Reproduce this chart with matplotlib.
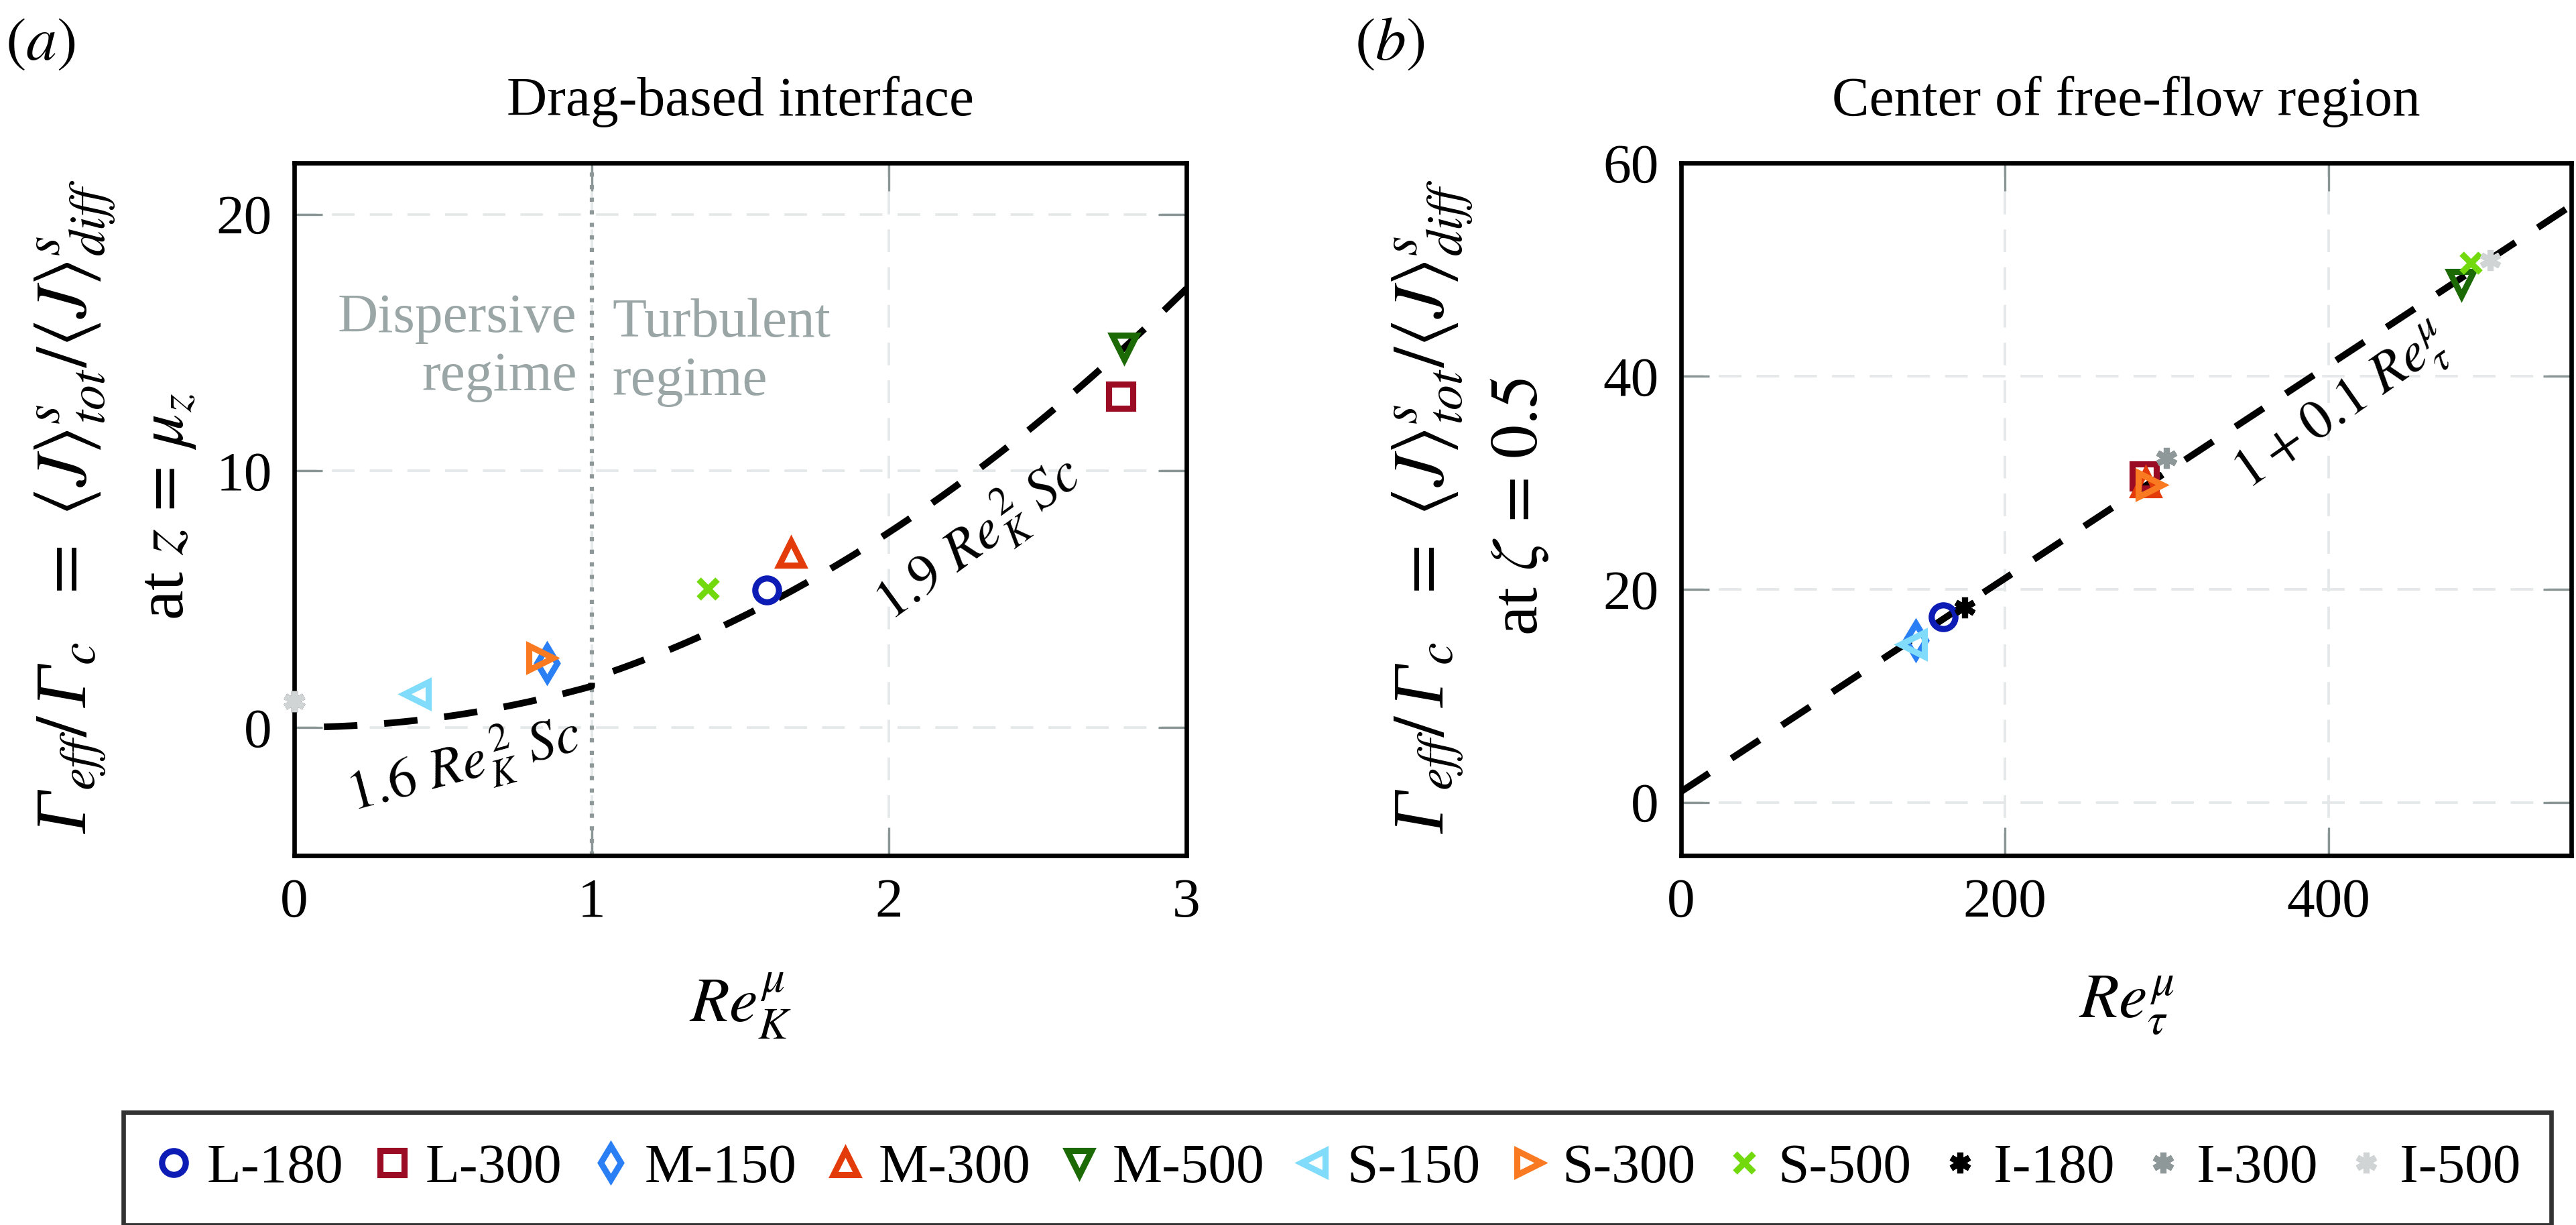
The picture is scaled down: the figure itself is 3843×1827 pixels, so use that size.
import numpy as np
import matplotlib
matplotlib.use("Agg")
import matplotlib.pyplot as plt
from matplotlib.lines import Line2D

plt.rcParams.update({
    "font.family": "serif",
    "font.serif": ["Liberation Serif", "DejaVu Serif"],
    "mathtext.fontset": "stix",
    "font.size": 20,
    "xtick.labelsize": 20,
    "ytick.labelsize": 20,
})

# ---- data ----
cases = ["L-180", "L-300", "M-150", "M-300", "M-500",
         "S-150", "S-300", "S-500", "I-180", "I-300", "I-500"]
colors = ["#0d1cb4", "#9b0b23", "#2b7ff5", "#e33b09", "#1c6a05",
          "#80dcfa", "#f97a21", "#72d90c", "#000000", "#8e9899", "#d0d4d4"]
ast = (6, 2, 0)
markers = ["o", "s", "d", "^", "v", "<", ">", "x", ast, ast, ast]

# (a) drag-based interface
re_k = [1.59, 2.78, 0.85, 1.67, 2.79, 0.41, 0.83, 1.39, 0.0, 0.0, 0.0]
gamma_drag = [5.35, 12.9, 2.5, 6.8, 14.8, 1.3, 2.7, 5.4, 1.0, 1.0, 1.0]

# (b) centre of free-flow region
re_tau = [162, 286, 145, 287, 482, 143, 290, 488, 175, 300, 500]
gamma_center = [17.4, 30.6, 15.2, 30.0, 48.7, 14.8, 29.8, 50.6, 18.3, 32.3, 50.9]

# fitted scalings shown as dashed lines
c_disp, c_turb = 1.6, 1.9      # Gamma = c Re_K^2 Sc  (Sc = 1)
c_off, c_slope = 1.0, 0.1      # Gamma = 1 + 0.1 Re_tau

grid_col = "#e4e8e8"
tick_col = "#8a9596"
note_col = "#9aa5a5"

fig = plt.figure(figsize=(12.81, 6.09), dpi=300)
ax1 = fig.add_axes([0.1142, 0.3016, 0.3464, 0.5654])
ax2 = fig.add_axes([0.6526, 0.3016, 0.3456, 0.5654])


def style(ax):
    for s in ax.spines.values():
        s.set_linewidth(1.6)
    ax.tick_params(direction="in", length=10, width=0.8, color=tick_col,
                   top=True, right=True, pad=8)
    ax.grid(True, color=grid_col, linestyle=(0, (9, 6)), linewidth=0.9)
    ax.set_axisbelow(True)


def msize(m):
    if m == "x":
        return 6.5
    if m == ast:
        return 7.5
    return 8.5


def scatter(ax, xs, ys):
    for x, y, c, m in zip(xs, ys, colors, markers):
        filled = m in ("x", ast)
        ax.plot(x, y, linestyle="none", marker=m, markersize=msize(m),
                markeredgewidth=2.2, markeredgecolor=c,
                markerfacecolor=c if filled else "none", clip_on=False, zorder=4)


def ylabel(ax, x1, x2, second):
    # italic Gamma comes from the text font, the rest from mathtext
    ax.text(x1, 0.504,
            "Γ" + r"${}_{eff}/\,$" + "Γ" +
            r"${}_c\ \ =\ \langle J\rangle^s_{tot}/\langle J\rangle^s_{diff}$",
            rotation=90, ha="center", va="center", fontsize=26,
            fontstyle="italic", transform=ax.transAxes)
    ax.text(x2, 0.504, second, rotation=90, ha="center", va="center",
            fontsize=24, transform=ax.transAxes)


dash = (0, (5, 4))

# ---- panel (a) ----
style(ax1)
xa = np.linspace(0.1, 1.0, 60)
xb = np.linspace(1.0, 3.0, 120)
ax1.plot(np.r_[xa, xb], np.r_[c_disp * xa**2, c_turb * xb**2],
         color="black", lw=2.4, linestyle=dash, zorder=3)
ax1.axvline(1.0, color="#8e9899", lw=1.5, linestyle=(0, (1, 2)), zorder=2)
scatter(ax1, re_k, gamma_drag)
ax1.set_xlim(0, 3)
ax1.set_ylim(-5, 22)
ax1.set_xticks([0, 1, 2, 3])
ax1.set_yticks([0, 10, 20])
ax1.set_title("Drag-based interface", pad=17, fontsize=20)
ax1.text(0.95, 14.8, "Dispersive\nregime", ha="right", va="center",
         multialignment="right", color=note_col, fontsize=20, linespacing=1.2)
ax1.text(1.07, 14.6, "Turbulent\nregime", ha="left", va="center",
         multialignment="left", color=note_col, fontsize=20, linespacing=1.2)
ax1.text(0.57, -1.45, r"$\mathit{1.6}\ Re_K^{\,2}\ Sc$", rotation=15,
         ha="center", va="center", fontsize=20)
ax1.text(2.30, 7.35, r"$\mathit{1.9}\ Re_K^{\,2}\ Sc$", rotation=36,
         ha="center", va="center", fontsize=20)
ax1.set_xlabel(r"$Re_K^{\mu}$", fontsize=23, va="center")
ax1.xaxis.set_label_coords(0.5, -0.217)
ylabel(ax1, -0.245, -0.142, r"at $z\,=\,\mu_z$")

# ---- panel (b) ----
style(ax2)
xl = np.linspace(0, 550, 50)
ax2.plot(xl, c_off + c_slope * xl, color="black", lw=2.4, linestyle=dash, zorder=3)
scatter(ax2, re_tau, gamma_center)
ax2.set_xlim(0, 550)
ax2.set_ylim(-5, 60)
ax2.set_xticks([0, 200, 400])
ax2.set_yticks([0, 20, 40, 60])
ax2.set_title("Center of free-flow region", pad=17, fontsize=20)
ax2.text(409, 36.8, r"$\mathit{1+0.1}\ Re_{\tau}^{\mu}$", rotation=35,
         ha="center", va="center", fontsize=20)
ax2.set_xlabel(r"$Re_{\tau}^{\mu}$", fontsize=23, va="center")
ax2.xaxis.set_label_coords(0.5, -0.217)
ylabel(ax2, -0.279, -0.181, r"at $\zeta\,=\,0.5$")

fig.text(0.002, 1 - 67 / 1827, r"$(a)$", ha="left", va="center", fontsize=22)
fig.text(0.526, 1 - 67 / 1827, r"$(b)$", ha="left", va="center", fontsize=22)

# ---- shared legend ----
handles = []
for lab, c, m in zip(cases, colors, markers):
    filled = m in ("x", ast)
    handles.append(Line2D([], [], linestyle="none", marker=m,
                          markersize=msize(m), markeredgewidth=2.2,
                          markeredgecolor=c,
                          markerfacecolor=c if filled else "none", label=lab))
leg = fig.legend(handles=handles, loc="center", ncol=11, mode="expand",
                 bbox_to_anchor=(184 / 3843, 3 / 1827, (3806 - 184) / 3843, 163 / 1827),
                 frameon=True, fancybox=False, edgecolor="black", fontsize=20,
                 handlelength=0.7, handletextpad=0.25, borderpad=0.55,
                 borderaxespad=0)
leg.get_frame().set_linewidth(1.6)

fig.savefig("out.png", dpi=300)
